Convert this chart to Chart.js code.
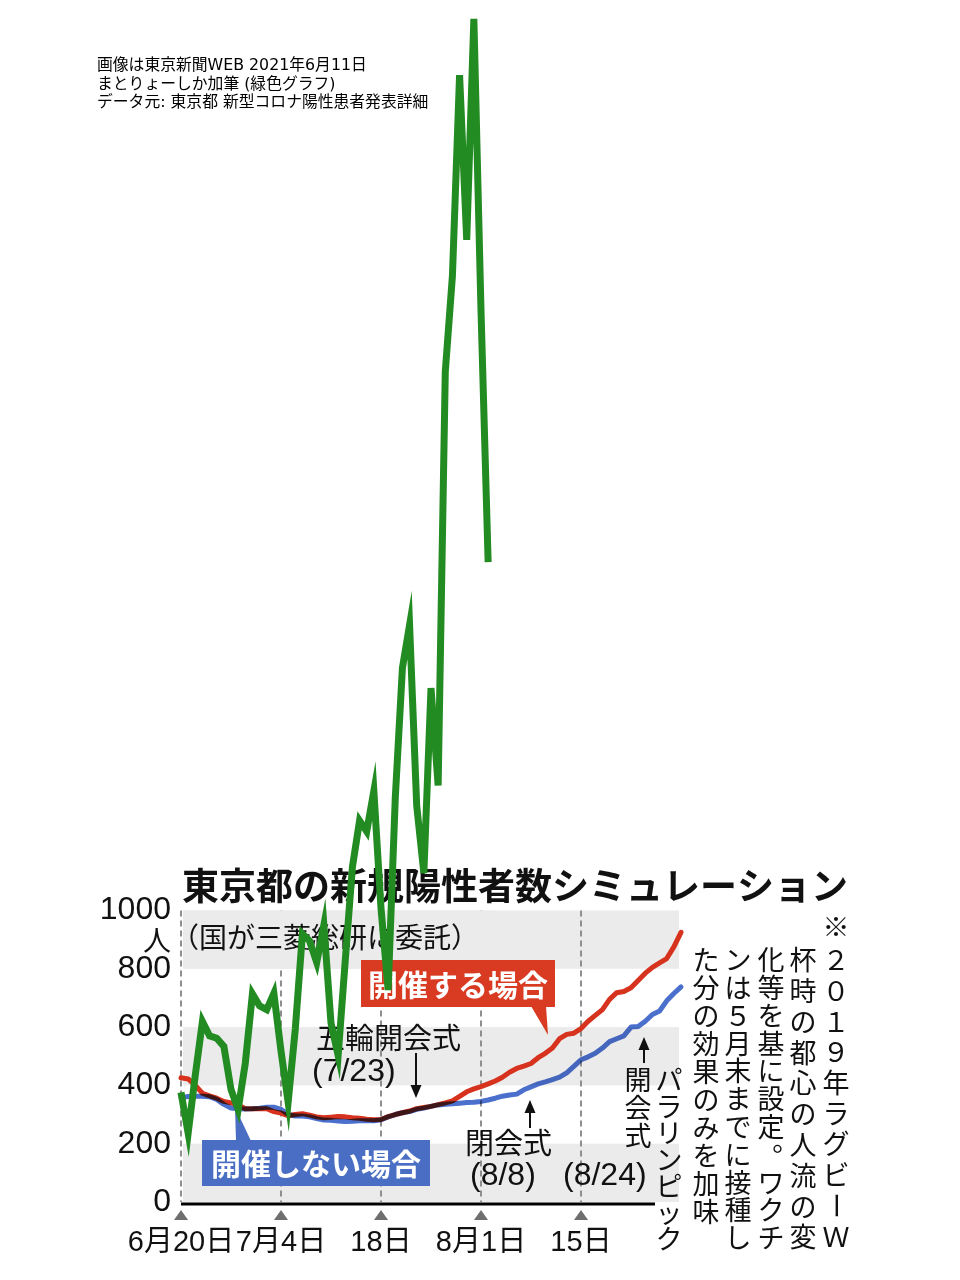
<!DOCTYPE html>
<html><head><meta charset="utf-8">
<script src="https://cdn.jsdelivr.net/npm/chart.js@4/dist/chart.umd.min.js"></script>
<style>html,body{margin:0;padding:0;background:#fff;} canvas{display:block;}</style>
</head><body>
<canvas id="c" width="960" height="1280" style="width:960px;height:1280px"></canvas>
<script>
// ---- data ----
const dates = ['6/20','6/21','6/22','6/23','6/24','6/25','6/26','6/27','6/28','6/29','6/30',
 '7/1','7/2','7/3','7/4','7/5','7/6','7/7','7/8','7/9','7/10','7/11','7/12','7/13','7/14','7/15','7/16','7/17','7/18','7/19','7/20','7/21','7/22','7/23','7/24','7/25','7/26','7/27','7/28','7/29','7/30','7/31',
 '8/1','8/2','8/3','8/4','8/5','8/6','8/7','8/8','8/9','8/10','8/11','8/12','8/13','8/14','8/15','8/16','8/17','8/18','8/19','8/20','8/21','8/22','8/23','8/24','8/25','8/26','8/27','8/28','8/29'];
// actual new cases (green, added line)
const actualCases = [376,236,435,619,570,562,534,386,317,476,714,673,660,716,518,342,593,920,896,822,950,614,502,830,1149,1308,1271,1410,1008,727,1387,1832,1979,1359,1128,1763,1429,2848,3177,3865,3300,4058,3058,2195];
// simulation: Games held (red)
const withGames = [426,422,400,373,364,356,345,340,333,320,320,320,320,310,305,296,300,303,298,292,289,291,293,292,289,287,284,282,283,293,300,306,312,320,324,328,334,340,347,362,378,388,396,405,415,428,445,458,466,475,495,510,528,560,575,579,595,620,640,660,695,718,722,735,760,785,805,820,835,875,925];
// simulation: Games not held (blue)
const withoutGames = [358,362,363,363,361,352,335,322,320,319,320,322,325,325,318,300,295,295,292,286,281,280,278,276,277,279,279,279,282,292,300,306,310,318,322,328,333,335,337,339,341,342,345,350,356,363,367,370,385,395,405,412,420,428,443,465,488,498,510,528,550,560,570,600,602,620,643,655,690,715,738];
const yTickValues = [0,200,400,600,800,1000];
const xTickIndex = [0,14,28,42,56];
const xTickText = ['6月20日','7月4日','18日','8月1日','15日'];
const headerLines = ['画像は東京新聞WEB 2021年6月11日','まとりょーしか加筆 (緑色グラフ)','データ元: 東京都 新型コロナ陽性患者発表詳細'];
const titleText = '東京都の新規陽性者数シミュレーション';
const subtitleText = '（国が三菱総研に委託）';
const noteColumns = ['２０１９年ラグビーＷ','杯時の都心の人流の変','化等を基に設定。ワクチ','ンは５月末までに接種し','た分の効果のみを加味'];

const JP = '"Noto Sans CJK JP", sans-serif';
const NUM = '"Liberation Sans", "Noto Sans CJK JP", sans-serif';
const BAND = '#ebebeb';

function vtext(ctx, str, cx, y0, pitch, size) {
  ctx.font = size + 'px ' + JP; ctx.textAlign = 'center'; ctx.textBaseline = 'middle';
  [...str].forEach((ch, i) => {
    const cy = y0 + i * pitch;
    if (ch === 'ー') { ctx.save(); ctx.translate(cx, cy); ctx.rotate(Math.PI / 2); ctx.fillText(ch, 0, 0); ctx.restore(); }
    else if (ch === '。') ctx.fillText(ch, cx + size * 0.55, cy - size * 0.5);
    else ctx.fillText(ch, cx, cy);
  });
}
function arrow(ctx, x, yFrom, yTo) {
  const dir = yTo > yFrom ? 1 : -1;
  ctx.strokeStyle = '#111'; ctx.fillStyle = '#111'; ctx.lineWidth = 2;
  ctx.beginPath(); ctx.moveTo(x, yFrom); ctx.lineTo(x, yTo - dir * 10); ctx.stroke();
  ctx.beginPath(); ctx.moveTo(x, yTo); ctx.lineTo(x - 5.5, yTo - dir * 13); ctx.lineTo(x + 5.5, yTo - dir * 13); ctx.closePath(); ctx.fill();
}

const deco = {
  id: 'deco',
  beforeDraw(chart) {
    const { ctx, chartArea: a, scales: { x, y } } = chart;
    ctx.save();
    ctx.fillStyle = '#fff'; ctx.fillRect(0, 0, chart.width, chart.height);
    ctx.fillStyle = BAND;
    [[0, 200], [400, 600], [800, 1000]].forEach(([lo, hi]) => {
      const y1 = y.getPixelForValue(hi), y2 = y.getPixelForValue(lo);
      ctx.fillRect(a.left + 2, y1, 679 - (a.left + 2), y2 - y1);
    });
    ctx.strokeStyle = '#8f8f8f'; ctx.lineWidth = 2; ctx.setLineDash([6, 4]);
    xTickIndex.forEach(i => {
      const px = Math.round(x.getPixelForValue(i));
      ctx.beginPath(); ctx.moveTo(px, y.getPixelForValue(1000)); ctx.lineTo(px, y.getPixelForValue(0)); ctx.stroke();
    });
    ctx.setLineDash([]);
    // background behind subtitle
    ctx.fillStyle = BAND;
    const t = y.getPixelForValue(1000), b = y.getPixelForValue(800);
    ctx.fillRect(a.left + 4, t, 494 - (a.left + 4), b - t);
    ctx.restore();
  },
  beforeDatasetsDraw(chart) {
    const { ctx, chartArea: a, scales: { x, y } } = chart;
    ctx.save();
    // x axis line
    ctx.strokeStyle = '#000'; ctx.lineWidth = 3;
    ctx.beginPath(); ctx.moveTo(a.left, 1204); ctx.lineTo(655, 1204); ctx.stroke();
    // triangles
    ctx.fillStyle = '#6e6e6e';
    xTickIndex.forEach(i => {
      const px = x.getPixelForValue(i);
      ctx.beginPath(); ctx.moveTo(px, 1210); ctx.lineTo(px - 7, 1220); ctx.lineTo(px + 7, 1220); ctx.closePath(); ctx.fill();
    });
    // title
    ctx.fillStyle = '#111'; ctx.textAlign = 'left'; ctx.textBaseline = 'middle';
    ctx.font = 'bold 37px ' + JP; ctx.fillText(titleText, 182, 886);
    ctx.font = '28px ' + JP; ctx.fillText(subtitleText, 171, 937);
    ctx.textAlign = 'center'; ctx.fillText('人', 157, 940);
    // red label box
    ctx.fillStyle = '#d83b22';
    ctx.fillRect(361, 960, 194, 47);
    ctx.beginPath(); ctx.moveTo(531, 1006); ctx.lineTo(546, 1006); ctx.lineTo(548, 1035); ctx.closePath(); ctx.fill();
    ctx.fillStyle = '#fff'; ctx.font = 'bold 30px ' + JP; ctx.fillText('開催する場合', 458, 985);
    // blue label box
    ctx.fillStyle = '#4a6ec4';
    ctx.fillRect(202, 1140, 228, 46);
    ctx.beginPath(); ctx.moveTo(235, 1107); ctx.lineTo(236, 1141); ctx.lineTo(251, 1141); ctx.closePath(); ctx.fill();
    ctx.fillStyle = '#fff'; ctx.fillText('開催しない場合', 316, 1164);
    // annotations
    ctx.fillStyle = '#111'; ctx.textAlign = 'left';
    ctx.font = '29px ' + JP;
    ctx.fillText('五輪開会式', 316, 1038);
    ctx.fillText('閉会式', 465, 1143);
    ctx.font = '32px ' + NUM;
    ctx.fillText('(7/23)', 312, 1072);
    ctx.fillText('(8/8)', 470, 1176);
    ctx.fillText('(8/24)', 563, 1176);
    arrow(ctx, 416, 1053, 1098);
    arrow(ctx, 530, 1128, 1100);
    arrow(ctx, 644, 1063, 1037);
    ctx.fillStyle = '#111';
    vtext(ctx, '開会式', 638, 1080, 28, 27);
    vtext(ctx, 'パラリンピック', 669, 1080, 26.5, 27);
    // note columns
    const colX = [836, 803, 771, 738, 706];
    const pitch = [30.7, 30.8, 27.8, 27.8, 28];
    vtext(ctx, '※', 836, 927, 30, 27);
    noteColumns.forEach((s, i) => vtext(ctx, s, colX[i], 960, pitch[i], 27));
    ctx.restore();
  },
  beforeDatasetDraw(chart, args) {
    if (args.index === 2) { chart.ctx.save(); chart.ctx.globalCompositeOperation = 'multiply'; }
  },
  afterDatasetDraw(chart, args) {
    if (args.index === 2) chart.ctx.restore();
  },
  afterDraw(chart) {
    const ctx = chart.ctx;
    ctx.save();
    ctx.fillStyle = '#000'; ctx.textAlign = 'left'; ctx.textBaseline = 'middle';
    ctx.font = '15.8px "DejaVu Sans", "Noto Sans CJK JP", sans-serif';
    headerLines.forEach((l, i) => ctx.fillText(l, 97, 66 + i * 18.5));
    ctx.restore();
  }
};

new Chart(document.getElementById('c'), {
  type: 'line',
  data: {
    labels: dates,
    datasets: [
      { label: '実績', data: actualCases, borderColor: '#228b22', borderWidth: 7, pointRadius: 0, tension: 0, clip: false, order: 0, fill: false },
      { label: '開催する場合', data: withGames, borderColor: '#d6321d', borderWidth: 5, pointRadius: 0, tension: 0, clip: false, order: 2, fill: false, borderJoinStyle: 'round', borderCapStyle: 'round' },
      { label: '開催しない場合', data: withoutGames, borderColor: '#4a6fcc', borderWidth: 5, pointRadius: 0, tension: 0, clip: false, order: 1, fill: false, borderJoinStyle: 'round', borderCapStyle: 'round' }
    ]
  },
  options: {
    responsive: false, animation: false, devicePixelRatio: 1,
    layout: { padding: { top: 0, right: 279, bottom: 0, left: 0 } },
    plugins: { legend: { display: false }, tooltip: { enabled: false } },
    scales: {
      x: {
        type: 'category',
        grid: { display: false, drawTicks: false }, border: { display: false },
        ticks: {
          autoSkip: false, maxRotation: 0, minRotation: 0, padding: 24, color: '#111',
          font: { family: NUM, size: 29 },
          callback: (v, i) => { const k = xTickIndex.indexOf(i); return k >= 0 ? xTickText[k] : null; }
        },
        afterFit: s => { s.height = 78; s.paddingLeft = 0; s.paddingRight = 0; }
      },
      y: {
        min: 0, max: 4123,
        grid: { display: false, drawTicks: false }, border: { display: false },
        afterBuildTicks: s => { s.ticks = yTickValues.map(v => ({ value: v })); },
        ticks: { padding: 10, color: '#111', font: { family: NUM, size: 32 }, callback: v => String(v) },
        afterFit: s => { s.width = 181; s.paddingTop = 0; s.paddingBottom = 0; }
      }
    }
  },
  plugins: [deco]
});
</script>
</body></html>
